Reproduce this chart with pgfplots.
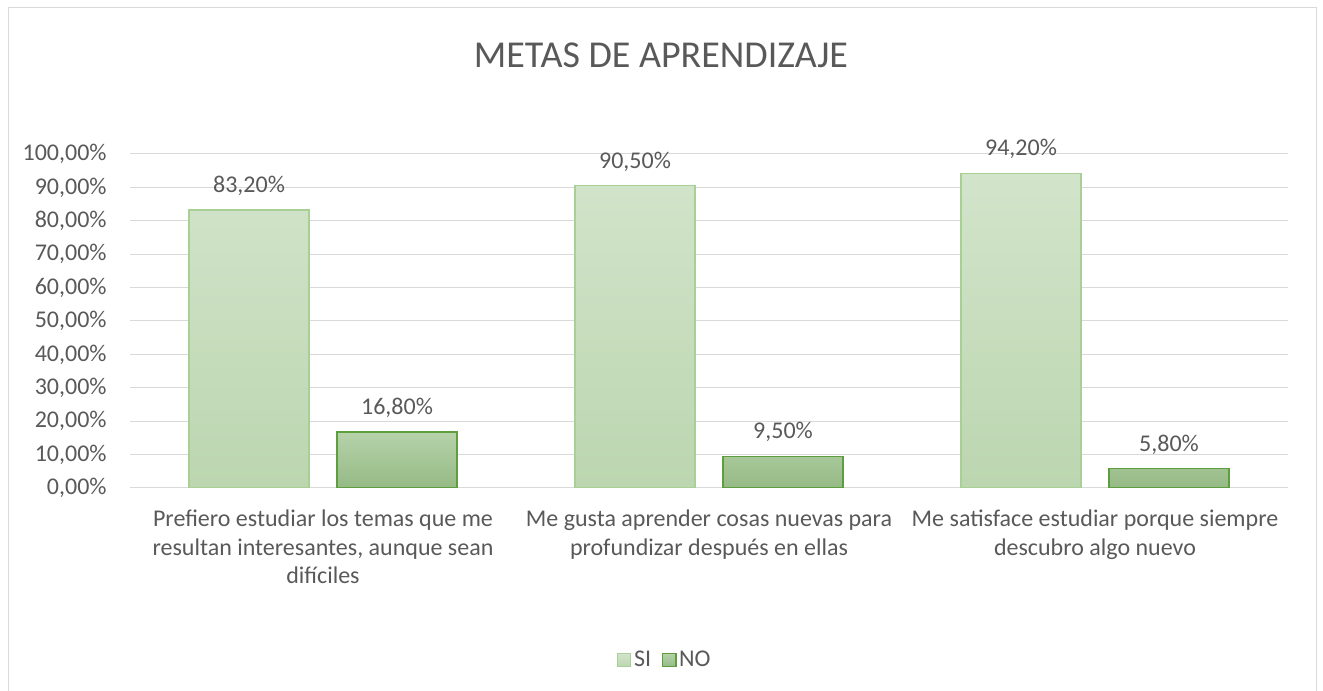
\documentclass[border=0pt]{standalone}
\usepackage{pgfplots}
\pgfplotsset{compat=1.18}
\usepackage{fontspec}
\setmainfont{Carlito}
\definecolor{txt}{HTML}{595959}
\definecolor{gridc}{HTML}{D9D9D9}
\definecolor{sitop}{HTML}{D2E4CA}
\definecolor{sibot}{HTML}{BCD6B0}
\definecolor{sidraw}{HTML}{A8CF95}
\definecolor{notop}{HTML}{B6D2AA}
\definecolor{nobot}{HTML}{95BA85}
\definecolor{nodraw}{HTML}{5E9E3E}
\begin{document}
\begin{tikzpicture}
\useasboundingbox (0,0) rectangle (992.25pt,518.25pt);
\draw[gridc, line width=0.75pt] (6pt,-10pt) -- (6pt,512.25pt) -- (987pt,512.25pt) -- (987pt,-10pt);
\node[txt, font=\fontsize{28.5}{32}\selectfont] at (495.75pt,477pt) {METAS DE APRENDIZAJE};
\begin{axis}[
  at={(97.5pt,152.25pt)}, anchor=south west,
  scale only axis, width=868.5pt, height=250.5pt,
  xmin=-0.5, xmax=2.5, ymin=0, ymax=100,
  ytick={0,10,...,100},
  xtick={0,1,2},
  xticklabels={{Prefiero estudiar los temas que me\\resultan interesantes, aunque sean\\difíciles},
    {Me gusta aprender cosas nuevas para\\profundizar después en ellas},
    {Me satisface estudiar porque siempre\\descubro algo nuevo}},
  xticklabel style={align=center, font=\fontsize{18}{21.4}\selectfont, text=txt, anchor=north, yshift=-13pt},
  yticklabel={\pgfmathprintnumber[fixed,fixed zerofill,precision=2,use comma]{\tick}\%},
  yticklabel style={font=\fontsize{18}{21}\selectfont, text=txt, xshift=-14pt},
  /pgf/number format/assume math mode=true,
  major tick length=0pt,
  ymajorgrids, grid style={gridc, line width=0.75pt},
  axis line style={draw=none},
  ybar=21pt, bar width=90pt,
  nodes near coords={\pgfmathprintnumber[fixed,fixed zerofill,precision=2,use comma]{\pgfplotspointmeta}\%},
  nodes near coords style={font=\fontsize{18}{21}\selectfont, text=txt, yshift=7pt},
  legend style={at={(0.462,-0.515)}, anchor=center, draw=none, legend columns=2,
    font=\fontsize{18}{21}\selectfont, text=txt, /tikz/every even column/.append style={column sep=6pt}},
  legend image code/.code={\draw[#1] (0pt,-5pt) rectangle (10pt,5pt);},
]
\addplot[draw=sidraw, line width=1pt, top color=sitop, bottom color=sibot] coordinates {(0,83.2) (1,90.5) (2,94.2)};
\addplot[draw=nodraw, line width=1pt, top color=notop, bottom color=nobot] coordinates {(0,16.8) (1,9.5) (2,5.8)};
\legend{SI,NO}
\end{axis}
\end{tikzpicture}
\end{document}
